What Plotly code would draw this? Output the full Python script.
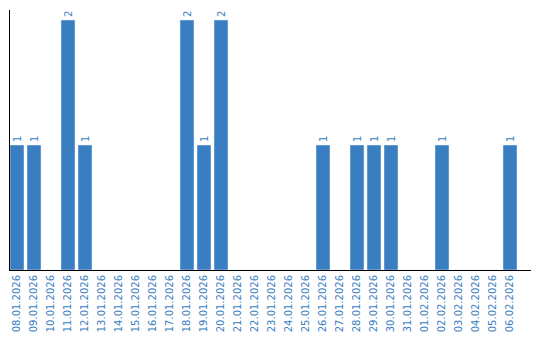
import plotly.graph_objects as go

dates = ["08.01.2026", "09.01.2026", "10.01.2026", "11.01.2026", "12.01.2026",
         "13.01.2026", "14.01.2026", "15.01.2026", "16.01.2026", "17.01.2026",
         "18.01.2026", "19.01.2026", "20.01.2026", "21.01.2026", "22.01.2026",
         "23.01.2026", "24.01.2026", "25.01.2026", "26.01.2026", "27.01.2026",
         "28.01.2026", "29.01.2026", "30.01.2026", "31.01.2026", "01.02.2026",
         "02.02.2026", "03.02.2026", "04.02.2026", "05.02.2026", "06.02.2026"]
counts = [1, 1, 0, 2, 1, 0, 0, 0, 0, 0,
          2, 1, 2, 0, 0, 0, 0, 0, 1, 0,
          1, 1, 1, 0, 0, 1, 0, 0, 0, 1]

color = "#3a7ec2"
xs = list(range(len(dates)))
texts = [str(c) if c > 0 else "" for c in counts]

fig = go.Figure(go.Bar(
    x=xs, y=counts, width=14 / 17, marker_color=color,
    text=texts, textposition="outside", textangle=-90,
    textfont=dict(family="DejaVu Sans", size=10, color=color),
    cliponaxis=False,
))

fig.update_layout(
    width=540, height=340,
    margin=dict(l=10, r=9, t=10, b=70),
    plot_bgcolor="white", paper_bgcolor="white",
    showlegend=False,
    xaxis=dict(
        range=[-7 / 17, -7 / 17 + 521 / 17],
        tickmode="array", tickvals=xs, ticktext=dates,
        tickangle=-90, showgrid=False, zeroline=False,
        showline=True, linecolor="black", linewidth=1,
        ticks="", tickfont=dict(family="DejaVu Sans", size=10, color=color),
    ),
    yaxis=dict(
        range=[0, 2.08], showgrid=False, zeroline=False,
        showline=True, linecolor="black", linewidth=1,
        showticklabels=False, ticks="",
    ),
)

fig.write_html("out.html")
